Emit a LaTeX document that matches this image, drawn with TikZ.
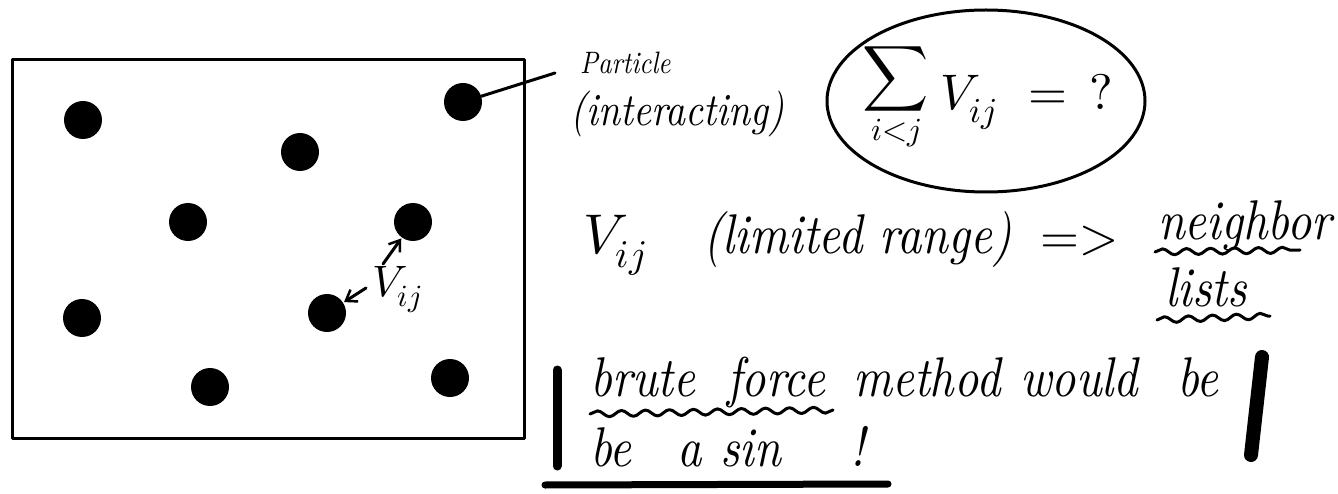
\documentclass[tikz,border=0pt]{standalone}
\usepackage{fontspec}
\usepackage{unicode-math}
\newfontfamily\hand{lmroman10-italic.otf}[FakeStretch=0.85]
\usetikzlibrary{arrows.meta,decorations.pathmorphing,shapes.geometric}
\tikzset{
  particle/.style={circle,fill=black,minimum size=38pt,inner sep=0pt},
  hw/.style={font=\fontsize{56}{58}\selectfont\hand,inner sep=0pt,anchor=base west},
  hwsmall/.style={font=\fontsize{31}{33}\selectfont\hand,inner sep=0pt,anchor=base west},
  hwmid/.style={font=\fontsize{46}{48}\selectfont\hand,inner sep=0pt,anchor=base west},
  mth/.style={font=\fontsize{50}{52}\selectfont,inner sep=0pt,anchor=base west},
  pen/.style={line width=3pt,line cap=round,line join=round},
  wavy/.style={pen,decorate,decoration={snake,amplitude=3pt,segment length=24pt}},
  barb/.style={pen,-{Straight Barb[length=10pt,width=14pt,line width=2.5pt]},shorten >=1pt},
  bar/.style={line cap=round}
}
\begin{document}
\begin{tikzpicture}[x=1pt,y=-1pt]
\useasboundingbox (0,0) rectangle (1338,494);
% box
\draw[pen] (12,60) rectangle (524,438);
% particles
\node[particle] (p1) at (83,120) {};
\node[particle] (p2) at (300,152) {};
\node[particle] (p3) at (463,102) {};
\node[particle] (p4) at (188,222) {};
\node[particle] (p5) at (413,222) {};
\node[particle] (p6) at (82,318) {};
\node[particle] (p7) at (327,313) {};
\node[particle] (p8) at (210,387) {};
\node[particle] (p9) at (450,378) {};
% V_ij between particles
\node[mth,font=\fontsize{44}{46}\selectfont] (vij) at (372,296) {$V_{ij}$};
\coordinate (a1) at (383,264);
\coordinate (a2) at (366,288);
\draw[barb] (a1) -- (p5);
\draw[barb] (a2) -- (p7);
% particle label
\node[hwsmall] (ptxt) at (580,74) {Particle};
\node[hwmid] (itxt) at (570,126) {(interacting)};
\coordinate (pend) at (555,73);
\draw[pen] (p3) -- (pend);
% circled sum
\node[draw,ellipse,line width=3pt,minimum width=318pt,minimum height=182pt] (circ) at (986,101) {};
\node[font=\fontsize{46}{48}\selectfont,inner sep=0pt] (sum) at (896,100) {$\displaystyle\sum_{i<j}$};
\node[mth] (vsum) at (940,110) {$V_{ij}$};
\node[mth] (eq) at (1028,110) {$=\,?$};
% line 2
\node[mth,font=\fontsize{56}{58}\selectfont] (v2) at (583,254) {$V_{ij}$};
\node[hw] (lim) at (703,254) {(limited range)};
\node[mth] (impl) at (1040,254) {$=>$};
\node[hw] (nb) at (1158,240) {neighbor};
\node[hw] (ls) at (1165,306) {lists};
\draw[wavy] (1155,252) -- (1300,250);
\draw[wavy] (1157,320) -- (1270,316);
% line 3
\node[hw] (w1) at (590,396) {brute};
\node[hw] (w2) at (727,396) {force};
\node[hw] (w3) at (853,396) {method};
\node[hw] (w4) at (1020,396) {would};
\node[hw] (w5) at (1177,396) {be};
\draw[wavy] (590,414) -- (833,410);
% line 4
\node[hw] (w6) at (590,466) {be};
\node[hw] (w7) at (677,466) {a};
\node[hw] (w8) at (720,466) {sin};
\node[hw] (w9) at (850,466) {!};
% bars
\draw[bar,line width=9pt] (557,370) -- (557,466);
\draw[bar,line width=14pt] (1262,357) -- (1251,455);
\draw[bar,line width=7pt] (545,485) -- (888,484);
\end{tikzpicture}
\end{document}
